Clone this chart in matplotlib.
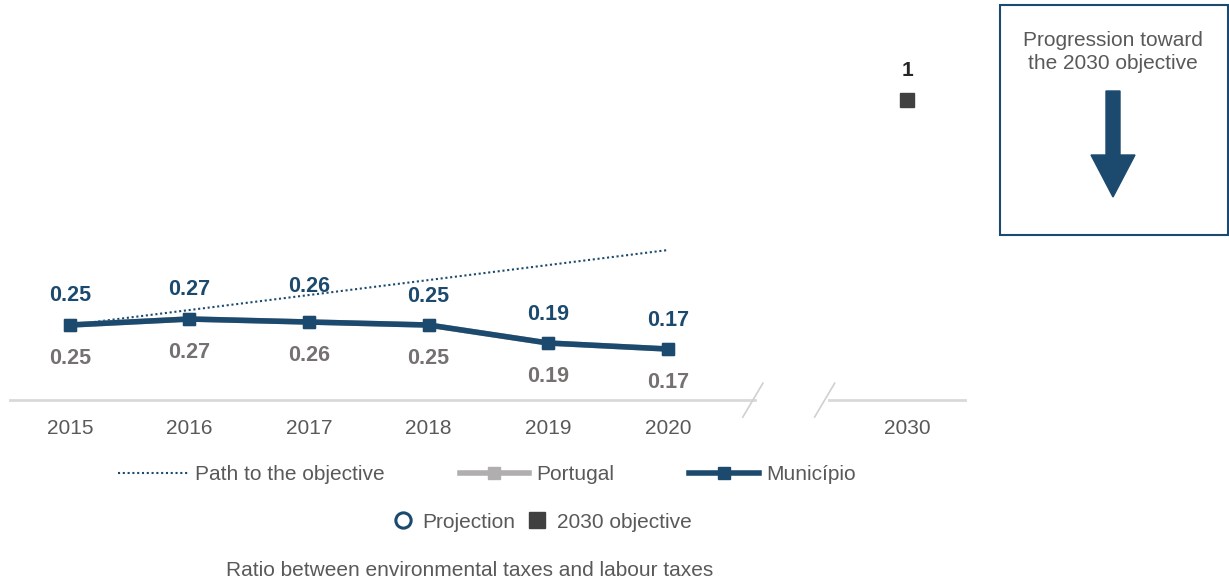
import numpy as np
import matplotlib.pyplot as plt
from matplotlib.lines import Line2D
from matplotlib.patches import Rectangle, FancyArrow

plt.rcParams['font.family'] = ['Liberation Sans', 'DejaVu Sans']

########## data ##########
years = ['2015', '2016', '2017', '2018', '2019', '2020']
portugal = [0.25, 0.27, 0.26, 0.25, 0.19, 0.17]
municipio = [0.25, 0.27, 0.26, 0.25, 0.19, 0.17]
path_years = ['2015', '2020']
path_vals = [0.25, 0.50]
objective_year = '2030'
objective_val = 1

blue = '#1c4a6e'
grey_lbl = '#767171'
tick_col = '#595959'

xpos = {y: i for i, y in enumerate(years)}
xpos['2030'] = 7

fig = plt.figure(figsize=(12.29, 5.83), dpi=100)
ax = fig.add_axes([0.0081, 0.3139, 0.7787, 0.643])
ax.set_xlim(-0.5, 7.5)
ax.set_ylim(0, 1.25)

x = [xpos[y] for y in years]

########## lines ##########
ax.plot([xpos[y] for y in path_years], path_vals, color=blue, lw=1.5,
        linestyle=(0, (1, 1.3)), zorder=2)
ax.plot(x, portugal, color='#b0aeae', lw=4, marker='s', ms=9, zorder=3)
ax.plot(x, municipio, color=blue, lw=4, marker='s', ms=9, zorder=4)
ax.plot([xpos[objective_year]], [objective_val], marker='s', ms=10,
        color='#404040', linestyle='none', zorder=5)

########## labels ##########
up = [30, 30, 36, 29, 29, 29]
for i, v in enumerate(municipio):
    ax.annotate(f'{v:.2f}', (x[i], v), xytext=(0, up[i]), textcoords='offset pixels',
                ha='center', va='center', fontsize=15.5, fontweight='bold', color=blue)
for i, v in enumerate(portugal):
    ax.annotate(f'{v:.2f}', (x[i], v), xytext=(0, -33), textcoords='offset pixels',
                ha='center', va='center', fontsize=15.5, fontweight='bold', color=grey_lbl)
ax.annotate(f'{objective_val}', (xpos[objective_year], objective_val), xytext=(0, 30),
            textcoords='offset pixels', ha='center', va='center', fontsize=15,
            fontweight='bold', color='#262626')

########## axes ##########
for s in ax.spines.values():
    s.set_visible(False)
ax.set_yticks([])
ax.set_xticks([xpos[y] for y in years] + [xpos['2030']])
ax.set_xticklabels(years + ['2030'], fontsize=15, color=tick_col)
ax.tick_params(axis='x', length=0, pad=14)
ax.plot([-0.5, 5.73], [0, 0], color='#d9d9d9', lw=2, clip_on=False, zorder=1)
ax.plot([6.35, 7.48], [0, 0], color='#d9d9d9', lw=2, clip_on=False, zorder=1)
for c in [5.71, 6.31]:
    ax.plot([c - 0.084, c + 0.084], [-0.057, 0.056], color='#d0d0d0', lw=1.2,
            clip_on=False)

########## legends ##########
h1 = [Line2D([], [], color=blue, lw=1.5, linestyle=(0, (1, 1.3))),
      Line2D([], [], color='#b0aeae', lw=4, marker='s', ms=8),
      Line2D([], [], color=blue, lw=4, marker='s', ms=8)]
fig.legend(h1, ['Path to the objective', 'Portugal', 'Município'], ncol=3,
           loc='center', bbox_to_anchor=(487 / 1229, 1 - 475 / 583), frameon=False,
           fontsize=15, handlelength=3.35, handletextpad=0.34, columnspacing=3.6,
           labelcolor=tick_col)
h2 = [Line2D([], [], color=blue, marker='o', ms=11, mfc='white', mew=2.2, linestyle='none'),
      Line2D([], [], color='#404040', marker='s', ms=11, linestyle='none')]
fig.legend(h2, ['Projection', '2030 objective'], ncol=2, loc='center',
           bbox_to_anchor=(542 / 1229, 1 - 522 / 583), frameon=False, fontsize=15,
           handlelength=1.0, handletextpad=0.45, columnspacing=0.55, labelcolor=tick_col)

fig.text(470 / 1229, 1 - 570 / 583, 'Ratio between environmental taxes and labour taxes',
         ha='center', va='center', fontsize=15, color=tick_col)

########## objective box ##########
fig.add_artist(Rectangle((1000 / 1229, 1 - 235 / 583), 228 / 1229, 230 / 583,
                         transform=fig.transFigure, fill=False, ec=blue, lw=1.5))
fig.text(1113 / 1229, 1 - 52 / 583, 'Progression toward\nthe 2030 objective',
         ha='center', va='center', fontsize=15, color=tick_col, linespacing=1.3)
arrow_ax = fig.add_axes([1000 / 1229, 1 - 235 / 583, 228 / 1229, 230 / 583])
arrow_ax.set_xlim(0, 228)
arrow_ax.set_ylim(230, 0)
arrow_ax.axis('off')
arrow_ax.add_patch(FancyArrow(113, 86, 0, 106, width=14, head_width=44, head_length=42,
                              length_includes_head=True, color=blue))

fig.savefig('out.png', dpi=100)
